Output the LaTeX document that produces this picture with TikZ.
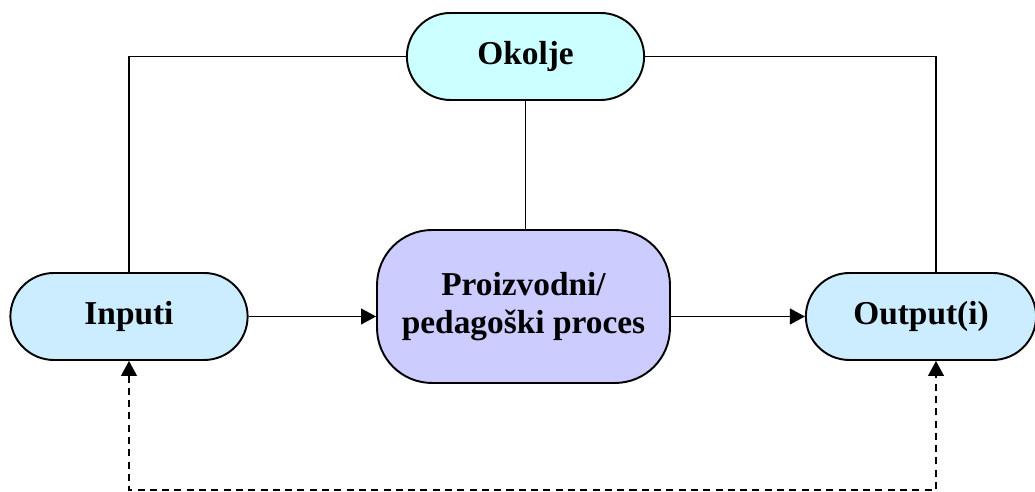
\documentclass[tikz,border=0pt]{standalone}
\usepackage{fontspec}
\setmainfont{Liberation Serif}
\usetikzlibrary{shapes.misc,arrows.meta,positioning}
\definecolor{okoljebg}{HTML}{CCFFFF}
\definecolor{iobg}{HTML}{CCECFF}
\definecolor{procbg}{HTML}{CCCCFF}

\begin{document}
\begin{tikzpicture}[x=0.02cm,y=0.02cm,
    pill/.style={rounded rectangle, draw, line width=1.1pt, minimum width=4.98cm, minimum height=1.74cm, font=\fontsize{19}{21.5}\selectfont\bfseries},
    procbox/.style={rectangle, rounded corners=1.1cm, draw, line width=1.1pt, fill=procbg, minimum width=5.86cm, minimum height=3.06cm, align=center, font=\fontsize{19}{21.5}\selectfont\bfseries},
    link/.style={line width=0.8pt},
    tip/.style={-{Triangle[length=8.5pt,width=9pt]}},
    fb/.style={dashed, dash pattern=on 4pt off 3pt, {Triangle[length=8.5pt,width=9pt]}-{Triangle[length=8.5pt,width=9pt]}}]
    \useasboundingbox (0,0) rectangle (1035,492);
    \node[pill, fill=okoljebg] (okolje) at (525.5,435.5) {Okolje};
    \node[pill, fill=iobg] (inputi) at (129,175.5) {Inputi};
    \node[pill, fill=iobg, minimum width=4.84cm] (output) at (921,175.5) {Output(i)};
    \node[procbox] (proces) at (523.5,185.5) {Proizvodni/\\pedagoški proces};
    \coordinate (outtop) at ([xshift=0.3cm]output.north);
    \coordinate (outbot) at ([xshift=0.3cm]output.south);
    \coordinate (loop) at (0,2);
    % okolje links
    \draw[link] (inputi.north) |- (okolje.west);
    \draw[link] (okolje.east) -| (outtop);
    \draw[link] (okolje.south) -- (okolje.south |- proces.north);
    % process flow
    \draw[link,tip] (inputi.east) -- (inputi.east -| proces.west);
    \draw[link,tip] (output.west -| proces.east) -- (output.west);
    % feedback
    \draw[link,fb] (inputi.south) -- (inputi.south |- loop) -| (outbot);
\end{tikzpicture}
\end{document}
